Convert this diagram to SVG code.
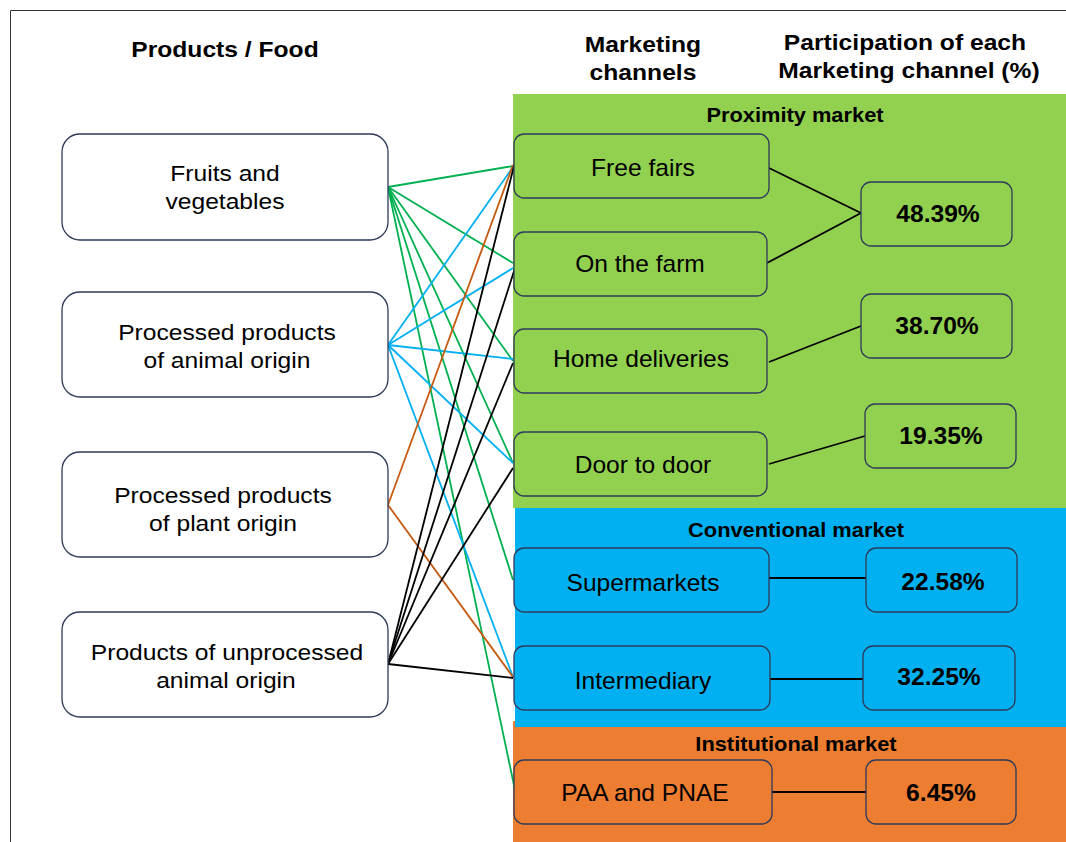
<svg xmlns="http://www.w3.org/2000/svg" width="1066" height="842" viewBox="0 0 1066 842">
<style>
text { font-family: "Liberation Sans", Arial, sans-serif; fill: #000; text-anchor: middle; transform-box: fill-box; transform-origin: center; transform: scaleX(1.12); }
.reg { font-size: 22px; }
.chx { font-size: 23.4px; transform: scaleX(1.05); }
.b { font-size: 22px; font-weight: bold; }
.pct { font-size: 23px; font-weight: bold; transform: scaleX(1.07); }
.sec { font-size: 19.5px; font-weight: bold; }
.prod { fill: #FFFFFF; stroke: #2E3A59; stroke-width: 1.3; }
.ch { stroke: #2E3A59; stroke-width: 1.3; }
.g { fill: #92D050; }
.bl { fill: #00B0F0; }
.or { fill: #ED7D31; }
#connectors line { stroke-width: 1.8; fill: none; }
.cg { stroke: #00B050; }
.cb { stroke: #00B0F0; }
.co { stroke: #C55A11; }
.ck { stroke: #000000; }
.pl { stroke: #000000; stroke-width: 1.6; }
</style>
<rect x="0" y="0" width="1066" height="842" fill="#FFFFFF"/>
<path d="M10.5,842 V10.5 H1066" fill="none" stroke="#333333" stroke-width="1"/>

<g id="regions">
<rect x="513" y="94" width="553" height="414" class="g"/>
<rect x="513" y="721" width="553" height="121" class="or"/>
<rect x="515" y="508" width="551" height="219" class="bl"/>
</g>

<g id="headers">
<text class="b" x="225" y="57">Products / Food</text>
<text class="b" x="643" y="52">Marketing</text>
<text class="b" x="643" y="80">channels</text>
<text class="b" x="905" y="50">Participation of each</text>
<text class="b" x="909" y="78">Marketing channel (%)</text>
<text class="sec" x="795" y="122">Proximity market</text>
<text class="sec" x="796" y="537">Conventional market</text>
<text class="sec" x="796" y="751">Institutional market</text>
</g>

<g id="connectors">
<line class="cg" x1="388" y1="187" x2="513" y2="166"/>
<line class="cg" x1="388" y1="187" x2="513" y2="263"/>
<line class="cg" x1="388" y1="187" x2="513" y2="361"/>
<line class="cg" x1="388" y1="187" x2="513" y2="463"/>
<line class="cg" x1="388" y1="187" x2="513" y2="580"/>
<line class="cg" x1="388" y1="187" x2="515" y2="790"/>
<line class="cb" x1="388" y1="345" x2="513" y2="167"/>
<line class="cb" x1="388" y1="345" x2="513" y2="268"/>
<line class="cb" x1="388" y1="345" x2="513" y2="359"/>
<line class="cb" x1="388" y1="345" x2="513" y2="463"/>
<line class="cb" x1="388" y1="345" x2="513" y2="677"/>
<line class="co" x1="388" y1="505" x2="513" y2="165"/>
<line class="co" x1="388" y1="505" x2="513" y2="677"/>
<line class="ck" x1="388" y1="664" x2="515" y2="162"/>
<line class="ck" x1="388" y1="664" x2="515" y2="268"/>
<line class="ck" x1="388" y1="664" x2="513" y2="363"/>
<line class="ck" x1="388" y1="664" x2="513" y2="468"/>
<line class="ck" x1="388" y1="664" x2="513" y2="678"/>
<line class="pl" x1="769" y1="168" x2="861" y2="213"/>
<line class="pl" x1="767" y1="263" x2="861" y2="213"/>
<line class="pl" x1="769" y1="362" x2="861" y2="326"/>
<line class="pl" x1="769" y1="464" x2="865" y2="436"/>
<line class="pl" x1="769" y1="578" x2="866" y2="578"/>
<line class="pl" x1="770" y1="679" x2="863" y2="679"/>
<line class="pl" x1="772" y1="792" x2="866" y2="792"/>
</g>

<g id="prod-fruits"><rect class="prod" x="62" y="134" width="326" height="106" rx="18"/><text class="reg" x="225" y="181">Fruits and</text><text class="reg" x="225" y="209">vegetables</text></g>
<g id="prod-animal"><rect class="prod" x="62" y="292" width="326" height="105" rx="18"/><text class="reg" x="227" y="340">Processed products</text><text class="reg" x="227" y="368">of animal origin</text></g>
<g id="prod-plant"><rect class="prod" x="62" y="452" width="326" height="105" rx="18"/><text class="reg" x="223" y="503">Processed products</text><text class="reg" x="223" y="531">of plant origin</text></g>
<g id="prod-unprocessed"><rect class="prod" x="62" y="612" width="326" height="105" rx="18"/><text class="reg" x="227" y="660">Products of unprocessed</text><text class="reg" x="226" y="688">animal origin</text></g>

<g id="ch-freefairs"><rect class="ch g" x="514" y="134" width="255" height="64" rx="10"/><text class="chx" x="643" y="176">Free fairs</text></g>
<g id="ch-farm"><rect class="ch g" x="514" y="232" width="253" height="64" rx="10"/><text class="chx" x="640" y="272">On the farm</text></g>
<g id="ch-home"><rect class="ch g" x="514" y="329" width="253" height="64" rx="10"/><text class="chx" x="641" y="367">Home deliveries</text></g>
<g id="ch-door"><rect class="ch g" x="514" y="432" width="253" height="64" rx="10"/><text class="chx" x="643" y="473">Door to door</text></g>
<g id="ch-super"><rect class="ch bl" x="514" y="548" width="255" height="64" rx="10"/><text class="chx" x="643" y="591">Supermarkets</text></g>
<g id="ch-inter"><rect class="ch bl" x="514" y="646" width="256" height="64" rx="10"/><text class="chx" x="643" y="689">Intermediary</text></g>
<g id="ch-paa"><rect class="ch or" x="514" y="760" width="258" height="64" rx="10"/><text class="chx" x="645" y="801">PAA and PNAE</text></g>

<g id="pct-48"><rect class="ch g" x="861" y="182" width="151" height="64" rx="10"/><text class="pct" x="938" y="222">48.39%</text></g>
<g id="pct-38"><rect class="ch g" x="861" y="294" width="151" height="64" rx="10"/><text class="pct" x="937" y="334">38.70%</text></g>
<g id="pct-19"><rect class="ch g" x="865" y="404" width="151" height="64" rx="10"/><text class="pct" x="941" y="444">19.35%</text></g>
<g id="pct-22"><rect class="ch bl" x="866" y="548" width="151" height="64" rx="10"/><text class="pct" x="943" y="590">22.58%</text></g>
<g id="pct-32"><rect class="ch bl" x="863" y="646" width="152" height="64" rx="10"/><text class="pct" x="939" y="685">32.25%</text></g>
<g id="pct-6"><rect class="ch or" x="866" y="760" width="150" height="64" rx="10"/><text class="pct" x="941" y="801">6.45%</text></g>
</svg>
